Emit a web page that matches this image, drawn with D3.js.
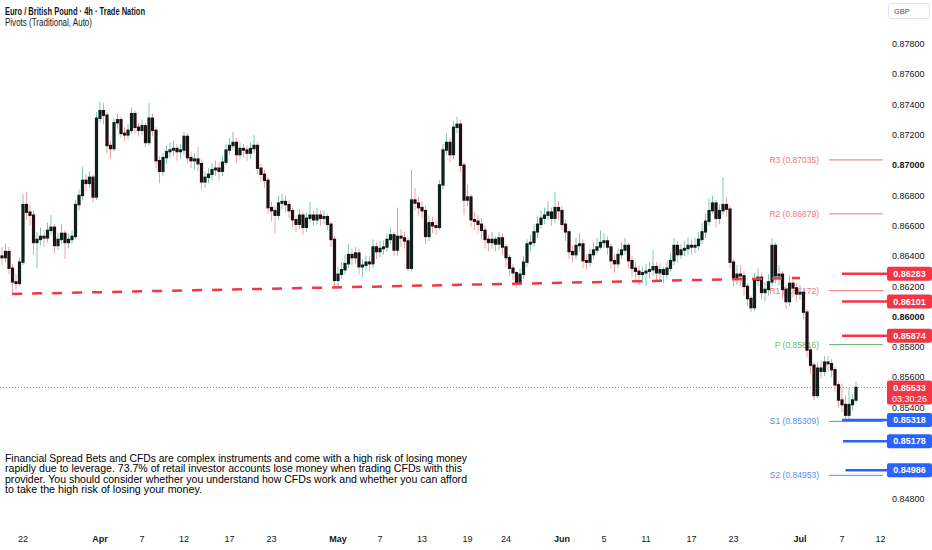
<!DOCTYPE html>
<html lang="en">
<head>
<meta charset="UTF-8">
<title>Euro / British Pound 4h</title>
<script src="https://d3js.org/d3.v7.min.js"></script>
<style>
  body { margin: 0; background: #fff; }
  svg text { font-family: "Liberation Sans", Arial, sans-serif; fill: #131722; }
</style>
</head>
<body>
<div id="chart"></div>
<script>
// price data, one bar per candle
const firstOpen = 0.8640;
const closes = [
  .8639,.8643,.8632,.8623,.8622,.8636,.8674,.8669,.8667,.8649,
  .8651,.8653,.8652,.8657,.8659,.8647,.8651,.8655,.8649,.8651,
  .8653,.8674,.8680,.8690,.8688,.8692,.8679,.8731,.8736,.8733,
  .8713,.8711,.8728,.8730,.8721,.8720,.8723,.8734,.8725,.8723,
  .8726,.8715,.8731,.8723,.8703,.8696,.8705,.8709,.8710,.8711,
  .8709,.8710,.8719,.8705,.8703,.8704,.8701,.8689,.8692,.8694,
  .8697,.8698,.8696,.8702,.8710,.8713,.8715,.8707,.8711,.8710,
  .8708,.8711,.8713,.8698,.8694,.8690,.8672,.8670,.8667,.8675,
  .8676,.8674,.8670,.8664,.8661,.8667,.8659,.8665,.8667,.8664,
  .8667,.8665,.8666,.8661,.8651,.8624,.8628,.8631,.8635,.8641,
  .8639,.8642,.8633,.8634,.8636,.8635,.8646,.8643,.8645,.8646,
  .8651,.8654,.8644,.8653,.8652,.8650,.8632,.8677,.8675,.8672,
  .8670,.8653,.8662,.8660,.8659,.8687,.8710,.8715,.8707,.8725,
  .8727,.8700,.8677,.8679,.8664,.8663,.8661,.8657,.8651,.8649,
  .8651,.8648,.8652,.8646,.8639,.8632,.8629,.8622,.8628,.8636,
  .8648,.8649,.8656,.8661,.8665,.8667,.8669,.8665,.8672,.8670,
  .8661,.8656,.8643,.8641,.8647,.8648,.8637,.8636,.8641,.8644,
  .8646,.8649,.8650,.8646,.8637,.8635,.8641,.8644,.8647,.8637,
  .8632,.8630,.8628,.8629,.8630,.8631,.8633,.8629,.8631,.8628,
  .8632,.8637,.8647,.8641,.8644,.8645,.8647,.8646,.8647,.8651,
  .8656,.8663,.8670,.8675,.8665,.8670,.8674,.8671,.8636,.8626,
  .8628,.8627,.8620,.8612,.8606,.8624,.8626,.8616,.8618,.8623,
  .8647,.8627,.8628,.8618,.8610,.8622,.8619,.8615,.8616,.8603,
  .8578,.8568,.8548,.8566,.8564,.8570,.8569,.8565,.8555,.8545,
  .8542,.8535,.8542,.8545,.85533
];
const highs = [
  .8646,.8648,.8646,.8635,.8628,.8639,.8681,.8682,.8674,.8670,
  .8656,.8659,.8657,.8662,.8667,.8661,.8655,.8661,.8657,.8655,
  .8657,.8677,.8684,.8699,.8694,.8696,.8694,.8735,.8742,.8741,
  .8735,.8716,.8731,.8734,.8732,.8725,.8727,.8738,.8736,.8728,
  .8730,.8728,.8741,.8734,.8725,.8706,.8708,.8713,.8715,.8716,
  .8714,.8714,.8722,.8721,.8709,.8708,.8712,.8704,.8696,.8698,
  .8701,.8703,.8702,.8706,.8714,.8718,.8722,.8718,.8715,.8714,
  .8713,.8715,.8720,.8715,.8701,.8697,.8692,.8676,.8673,.8680,
  .8681,.8680,.8677,.8672,.8667,.8671,.8669,.8669,.8676,.8670,
  .8672,.8670,.8670,.8668,.8663,.8653,.8633,.8636,.8641,.8648,
  .8645,.8646,.8645,.8638,.8640,.8640,.8651,.8649,.8650,.8650,
  .8655,.8659,.8656,.8672,.8658,.8656,.8652,.8697,.8685,.8679,
  .8676,.8673,.8667,.8666,.8664,.8690,.8714,.8721,.8718,.8729,
  .8732,.8730,.8702,.8687,.8681,.8669,.8667,.8665,.8660,.8654,
  .8656,.8653,.8656,.8655,.8648,.8641,.8635,.8630,.8632,.8640,
  .8651,.8654,.8661,.8666,.8670,.8672,.8676,.8672,.8682,.8676,
  .8673,.8664,.8658,.8647,.8652,.8655,.8651,.8641,.8645,.8649,
  .8652,.8657,.8655,.8653,.8648,.8641,.8645,.8649,.8652,.8649,
  .8640,.8636,.8634,.8633,.8635,.8636,.8644,.8636,.8635,.8633,
  .8637,.8642,.8652,.8650,.8648,.8650,.8652,.8651,.8652,.8656,
  .8662,.8668,.8678,.8680,.8677,.8674,.8692,.8679,.8673,.8638,
  .8634,.8634,.8630,.8622,.8614,.8629,.8632,.8629,.8623,.8628,
  .8652,.8649,.8634,.8630,.8621,.8627,.8625,.8622,.8621,.8618,
  .8605,.8581,.8570,.8570,.8571,.8574,.8574,.8572,.8567,.8557,
  .8556,.8548,.8553,.8549,.8557
];
const lows = [
  .8634,.8636,.8628,.8616,.8618,.8620,.8634,.8664,.8660,.8641,
  .8632,.8647,.8646,.8649,.8654,.8642,.8644,.8648,.8638,.8645,
  .8648,.8651,.8670,.8677,.8683,.8685,.8675,.8677,.8728,.8727,
  .8708,.8704,.8709,.8724,.8718,.8716,.8717,.8721,.8721,.8719,
  .8720,.8712,.8713,.8719,.8698,.8688,.8693,.8701,.8705,.8706,
  .8703,.8704,.8707,.8701,.8698,.8697,.8696,.8684,.8685,.8688,
  .8690,.8693,.8690,.8693,.8700,.8707,.8710,.8702,.8704,.8705,
  .8703,.8704,.8708,.8694,.8689,.8685,.8668,.8663,.8655,.8664,
  .8671,.8669,.8665,.8659,.8656,.8658,.8654,.8656,.8662,.8660,
  .8661,.8660,.8661,.8657,.8646,.8619,.8620,.8625,.8628,.8632,
  .8634,.8635,.8628,.8626,.8630,.8630,.8632,.8638,.8639,.8641,
  .8643,.8648,.8640,.8640,.8646,.8645,.8630,.8630,.8670,.8667,
  .8665,.8648,.8650,.8655,.8654,.8657,.8684,.8707,.8702,.8704,
  .8721,.8695,.8667,.8673,.8659,.8657,.8655,.8651,.8645,.8643,
  .8645,.8643,.8644,.8641,.8633,.8627,.8624,.8619,.8620,.8625,
  .8633,.8643,.8646,.8652,.8658,.8661,.8664,.8660,.8662,.8664,
  .8657,.8650,.8638,.8636,.8638,.8643,.8632,.8631,.8633,.8638,
  .8641,.8644,.8645,.8641,.8632,.8629,.8632,.8638,.8641,.8632,
  .8626,.8624,.8621,.8622,.8620,.8625,.8627,.8623,.8624,.8622,
  .8625,.8630,.8634,.8636,.8638,.8640,.8641,.8641,.8642,.8644,
  .8648,.8652,.8660,.8668,.8659,.8661,.8667,.8666,.8632,.8620,
  .8621,.8620,.8614,.8607,.8603,.8604,.8620,.8611,.8610,.8614,
  .8620,.8622,.8621,.8612,.8605,.8607,.8613,.8610,.8611,.8598,
  .8573,.8562,.8545,.8546,.8559,.8561,.8564,.8560,.8550,.8540,
  .8537,.8531,.8532,.8538,.8543
];

// time axis labels and the bar each one sits on
const xTickLabels = ["22","Apr","7","12","17","23","May","7","13","19","24","Jun","5","11","17","23","Jul","7","12"];
const xTickBars   = [6,28,40,52,65,77,96,108,120,133,144,160,172,184,197,209,228,240,251];
const monthNames  = ["Apr","May","Jun","Jul"];

const priceTicks = [0.848,0.850,0.852,0.854,0.856,0.858,0.860,0.862,0.864,0.866,0.868,0.870,0.872,0.874,0.876,0.878];

// drawings
const trendBars   = [2.9, 228];
const trendPrices = [0.8615, 0.86256];

const pivotNames  = ["R3","R2","R1","P","S1","S2"];
const pivotValues = [0.87035, 0.86679, 0.86172, 0.85816, 0.85309, 0.84953];
const pivotBars   = [236.3, 251.7];

const redLevels     = [0.86283, 0.86101, 0.85874];
const redStartBars  = [240, 240, 240];
const blueLevels    = [0.85318, 0.85178, 0.84986];
const blueStartBars = [240, 240.3, 241];

const lastPrice = 0.85533;
const countdown = "03:30:26";

const disclaimer = [
  "Financial Spread Bets and CFDs are complex instruments and come with a high risk of losing money",
  "rapidly due to leverage. 73.7% of retail investor accounts lose money when trading CFDs with this",
  "provider. You should consider whether you understand how CFDs work and whether you can afford",
  "to take the high risk of losing your money."
];
const disclaimerWidths = [462, 457, 462, 197];

const width = 932, height = 550;
const plotRight = 887;

const svg = d3.select("#chart").append("svg")
    .attr("width", width)
    .attr("height", height)
    .style("display", "block");

svg.append("rect").attr("width", width).attr("height", height).attr("fill", "#fff");

const defs = svg.append("defs");
defs.append("clipPath").attr("id", "plotClip")
  .append("rect").attr("x", 0).attr("y", 0).attr("width", plotRight).attr("height", 525);
defs.append("clipPath").attr("id", "axisClip")
  .append("rect").attr("x", 0).attr("y", 525).attr("width", 885).attr("height", 25);

const x = d3.scaleLinear().domain([0, closes.length - 1]).range([2, 856]);
const y = d3.scaleLinear().domain([0.848, 0.878]).range([498.5, 44]);

const opens = closes.map((c, i) => i === 0 ? firstOpen : closes[i - 1]);
const bars = closes.map((c, i) => ({ i, o: opens[i], h: highs[i], l: lows[i], c }));

const plot = svg.append("g").attr("clip-path", "url(#plotClip)");

// current price dotted line
plot.append("line")
    .attr("x1", 0).attr("x2", plotRight)
    .attr("y1", y(lastPrice)).attr("y2", y(lastPrice))
    .attr("stroke", "#f23645").attr("stroke-width", 1)
    .attr("stroke-dasharray", "1 2").attr("opacity", 0.8);

// pivot levels
const pivotColor = n => n[0] === "R" ? "#f0737c" : n[0] === "P" ? "#66b86c" : "#5b8def";
const piv = plot.selectAll("g.pivot")
  .data(pivotNames.map((n, k) => ({ n, v: pivotValues[k] })))
  .enter().append("g").attr("class", "pivot");
piv.append("line")
    .attr("x1", x(pivotBars[0])).attr("x2", x(pivotBars[1]))
    .attr("y1", d => y(d.v)).attr("y2", d => y(d.v))
    .attr("stroke", d => pivotColor(d.n)).attr("stroke-width", 1);
piv.append("text")
    .attr("x", 819).attr("y", d => y(d.v))
    .attr("dy", "0.35em")
    .attr("text-anchor", "end")
    .style("font-size", "8.5px")
    .style("fill", d => pivotColor(d.n))
    .text(d => `${d.n} (${d.v.toFixed(5)})`);

// candles
const candle = plot.selectAll("g.candle").data(bars).enter()
  .append("g").attr("class", "candle");
candle.append("line")
    .attr("x1", d => x(d.i)).attr("x2", d => x(d.i))
    .attr("y1", d => y(d.h)).attr("y2", d => y(d.l))
    .attr("stroke", d => d.c >= d.o ? "#7fc9bc" : "#f3a1a9")
    .attr("stroke-width", 1);
candle.append("rect")
    .attr("x", d => x(d.i) - 1.6)
    .attr("width", 3.2)
    .attr("y", d => y(Math.max(d.o, d.c)) - 0.7)
    .attr("height", d => Math.max(1.8, Math.abs(y(d.o) - y(d.c)) + 1.4))
    .attr("fill", d => d.c >= d.o ? "#0f201d" : "#201012");

// trend line
plot.append("line")
    .attr("x1", x(trendBars[0])).attr("y1", y(trendPrices[0]))
    .attr("x2", x(trendBars[1])).attr("y2", y(trendPrices[1]))
    .attr("stroke", "#f23645").attr("stroke-width", 2.5)
    .attr("stroke-dasharray", "10 10");

// horizontal level lines
plot.selectAll("line.red").data(redLevels).enter().append("line")
    .attr("class", "red")
    .attr("x1", (d, k) => x(redStartBars[k])).attr("x2", plotRight)
    .attr("y1", d => y(d)).attr("y2", d => y(d))
    .attr("stroke", "#f23645").attr("stroke-width", 2.5);
plot.selectAll("line.blue").data(blueLevels).enter().append("line")
    .attr("class", "blue")
    .attr("x1", (d, k) => x(blueStartBars[k])).attr("x2", plotRight)
    .attr("y1", d => y(d)).attr("y2", d => y(d))
    .attr("stroke", "#2962ff").attr("stroke-width", 2.5);

// price axis; a tick label hides behind a level box, so skip those
const fmt = d3.format(".5f");
const boxLevels = redLevels.concat(blueLevels);
const shownTicks = priceTicks.filter(t => boxLevels.every(v => Math.abs(y(t) - y(v)) > 9));
svg.append("g").selectAll("text").data(shownTicks).enter().append("text")
    .attr("x", 892).attr("y", d => y(d))
    .attr("dy", "0.35em")
    .style("font-size", "9px")
    .style("font-weight", d => Math.abs(d * 100 - Math.round(d * 100)) < 1e-6 ? "bold" : "normal")
    .text(d => fmt(d));

// level labels on the axis
function axisBox(v, color, h) {
  const g = svg.append("g");
  g.append("rect")
    .attr("x", 887).attr("y", y(v) - 7)
    .attr("width", 45).attr("height", h)
    .attr("rx", 2).attr("fill", color);
  g.append("text")
    .attr("x", 909.5).attr("y", y(v)).attr("dy", "0.35em")
    .attr("text-anchor", "middle")
    .style("font-size", "9px").style("font-weight", "bold")
    .style("fill", "#fff")
    .text(fmt(v));
  return g;
}
redLevels.forEach(v => axisBox(v, "#f23645", 14));
blueLevels.forEach(v => axisBox(v, "#2962ff", 14));
axisBox(lastPrice, "#f23645", 24)
  .append("text")
    .attr("x", 909.5).attr("y", y(lastPrice) + 11).attr("dy", "0.35em")
    .attr("text-anchor", "middle")
    .style("font-size", "9px")
    .style("fill", "#fff")
    .text(countdown);

// currency button
svg.append("rect")
    .attr("x", 888.5).attr("y", 3.5).attr("width", 41).attr("height", 15)
    .attr("rx", 2).attr("fill", "#fff").attr("stroke", "#e0e3eb");
svg.append("text")
    .attr("x", 894).attr("y", 11).attr("dy", "0.35em")
    .style("font-size", "7.5px").style("fill", "#4a4e59")
    .text("GBP");

// time axis
svg.append("g").attr("clip-path", "url(#axisClip)")
  .selectAll("text").data(xTickLabels).enter().append("text")
    .attr("x", (d, k) => x(xTickBars[k]))
    .attr("y", 542)
    .attr("text-anchor", "middle")
    .style("font-size", "9px")
    .style("font-weight", d => monthNames.includes(d) ? "bold" : "normal")
    .text(d => d);

// legend
svg.append("text")
    .attr("x", 5).attr("y", 14.5)
    .attr("textLength", 140).attr("lengthAdjust", "spacingAndGlyphs")
    .style("font-size", "10px").style("font-weight", "bold")
    .text("Euro / British Pound · 4h · Trade Nation");
svg.append("text")
    .attr("x", 5).attr("y", 26)
    .attr("textLength", 87).attr("lengthAdjust", "spacingAndGlyphs")
    .style("font-size", "10px")
    .text("Pivots (Traditional, Auto)");

// disclaimer
svg.append("g").selectAll("text").data(disclaimer).enter().append("text")
    .attr("x", 5).attr("y", (d, k) => 462 + k * 10.3)
    .attr("textLength", (d, k) => disclaimerWidths[k])
    .attr("lengthAdjust", "spacingAndGlyphs")
    .style("font-size", "10.5px")
    .style("fill", "#000")
    .text(d => d);
</script>
</body>
</html>
